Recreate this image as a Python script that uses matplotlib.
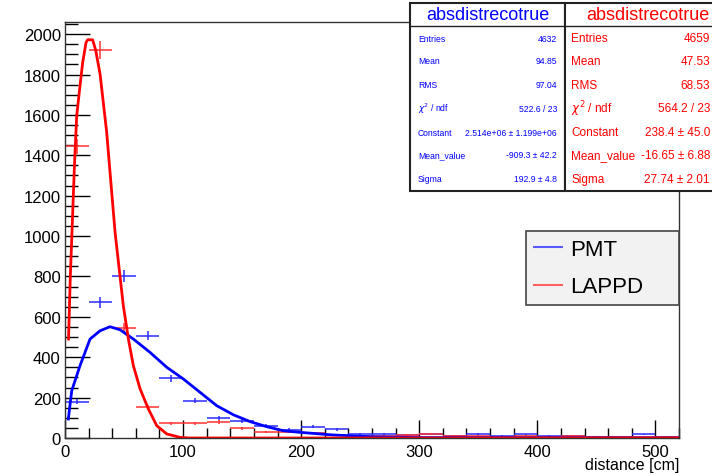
import numpy as np
import matplotlib
matplotlib.use('Agg')
import matplotlib.pyplot as plt
from matplotlib.patches import Rectangle
from matplotlib.lines import Line2D
from matplotlib.ticker import MultipleLocator

plt.rcParams['font.family'] = ['Liberation Sans', 'DejaVu Sans']

# histogram bins (20 cm wide)
bin_centers = list(range(10, 520, 20))
pmt_counts = [180, 672, 803, 506, 295, 185, 99, 86, 61, 41, 55, 43, 22,
              22, 15, 18, 12, 22, 10, 18, 10, 10, 5, 5, 18, 5]
lappd_counts = [1445, 1921, 545, 152, 73, 72, 78, 48, 28, 28, 25, 15, 10,
                10, 15, 22, 10, 12, 5, 12, 5, 10, 3, 3, 3, 3]

# fitted curves
pmt_fit_x = [2.8, 5.7, 12.7, 21.2, 29.7, 38.1, 46.6, 57.9, 72, 86.2, 100.3,
             114.4, 128.5, 142.6, 156.8, 170.9, 185, 199, 227, 260, 300, 520]
pmt_fit_y = [94, 234, 358, 490, 531, 551, 536, 490, 424, 350, 292,
             226, 160, 115, 81, 56, 36, 28, 15, 6, 2, 0]
lappd_fit_x = [3, 4.5, 5.7, 8, 9.9, 12.7, 15, 17.8, 19.2, 23.4, 26, 29.7, 35.3,
               42.4, 49.4, 53.7, 57.9, 63.6, 70.6, 77.7, 86.2, 97.5, 105, 520]
lappd_fit_y = [490, 800, 985, 1350, 1595, 1744, 1860, 1958, 1972, 1972, 1920,
               1802, 1514, 1019, 655, 490, 358, 243, 144, 61, 20, 3, 0, 0]

pmt_stats = [('Entries', '4632'), ('Mean', '94.85'), ('RMS', '97.04'),
             ('$\\chi^2$ / ndf', '522.6 / 23'),
             ('Constant', '2.514e+06 ± 1.199e+06'),
             ('Mean_value', '-909.3 ± 42.2'), ('Sigma', '192.9 ± 4.8')]
lappd_stats = [('Entries', '4659'), ('Mean', '47.53'), ('RMS', '68.53'),
               ('$\\chi^2$ / ndf', '564.2 / 23'),
               ('Constant', '238.4 ± 45.0'),
               ('Mean_value', '-16.65 ± 6.88'), ('Sigma', '27.74 ± 2.01')]

W, H = 712, 477
fig = plt.figure(figsize=(W / 100, H / 100), dpi=100)
ax = fig.add_axes([65 / W, 1 - 439 / H, 614 / W, 416 / H])

pmt_err = np.sqrt(pmt_counts)
lappd_err = np.sqrt(lappd_counts)
ax.errorbar(bin_centers, pmt_counts, xerr=10, yerr=pmt_err, fmt='none',
            ecolor='#2b2bff', elinewidth=1.1, capsize=0)
ax.errorbar(bin_centers, lappd_counts, xerr=10, yerr=lappd_err, fmt='none',
            ecolor='#ff3030', elinewidth=1.1, capsize=0)
ax.plot(pmt_fit_x, pmt_fit_y, color='blue', lw=2)
ax.plot(lappd_fit_x, lappd_fit_y, color='red', lw=2)

ax.set_xlim(0, 520)
ax.set_ylim(0, 2060)
ax.xaxis.set_major_locator(MultipleLocator(100))
ax.xaxis.set_minor_locator(MultipleLocator(20))
ax.yaxis.set_major_locator(MultipleLocator(200))
ax.yaxis.set_minor_locator(MultipleLocator(50))
ax.tick_params(which='both', direction='in', top=False, right=False,
               labelsize=12, colors='black')
ax.tick_params(axis='y', which='major', length=18, width=1)
ax.tick_params(axis='y', which='minor', length=9, width=1)
ax.tick_params(axis='x', which='major', length=13, width=1)
ax.tick_params(axis='x', which='minor', length=7, width=1)
ax.tick_params(axis='x', pad=4)
ax.tick_params(axis='y', pad=3)
for s in ax.spines.values():
    s.set_color('#333333')
    s.set_linewidth(1)
fig.text(679 / W, 1 - 466 / H, 'distance [cm]', ha='right', va='center',
         fontsize=11.5)

# legend
handles = [Line2D([], [], color='#5a5aff', lw=1.5),
           Line2D([], [], color='#ff6060', lw=1.5)]
leg = fig.legend(handles, ['PMT', 'LAPPD'], loc='upper left',
                 bbox_to_anchor=(526 / W, 1 - 308 / H, 153 / W, 76 / H),
                 mode='expand', fontsize=16, frameon=True, fancybox=False,
                 handlelength=1.25, handletextpad=0.4, borderaxespad=0,
                 labelspacing=0.75, borderpad=0.35, handleheight=0.7)
leg.get_frame().set_facecolor('#f2f2f2')
leg.get_frame().set_edgecolor('#444444')
leg.get_frame().set_linewidth(1.2)
leg.get_frame().set_alpha(1)


# stats boxes
def stats_box(x0, x1, color, rows, fs, lx, rx):
    fig.patches.append(Rectangle((x0 / W, 1 - 192 / H), (x1 - x0) / W,
                                 188 / H, transform=fig.transFigure,
                                 facecolor='white', edgecolor='#222222',
                                 lw=1.5, zorder=5))
    fig.text((x0 + x1) / 2 / W, 1 - 16 / H, 'absdistrecotrue', color=color,
             ha='center', va='center', fontsize=13, zorder=6)
    fig.lines.append(Line2D([x0 / W, x1 / W], [1 - 27 / H, 1 - 27 / H],
                            transform=fig.transFigure, color='#222222',
                            lw=1, zorder=6))
    ys = [39, 62, 86, 109, 133, 156, 180]
    for (lab, val), y in zip(rows, ys):
        fig.text(lx / W, 1 - y / H, lab, color=color, ha='left',
                 va='center', fontsize=fs, zorder=6)
        fig.text(rx / W, 1 - y / H, val, color=color, ha='right',
                 va='center', fontsize=fs, zorder=6)


stats_box(410, 565, 'blue', pmt_stats, 6.2, 418, 557)
stats_box(565, 730, 'red', lappd_stats, 8.5, 571, 710)

fig.savefig('out.png', dpi=100)
